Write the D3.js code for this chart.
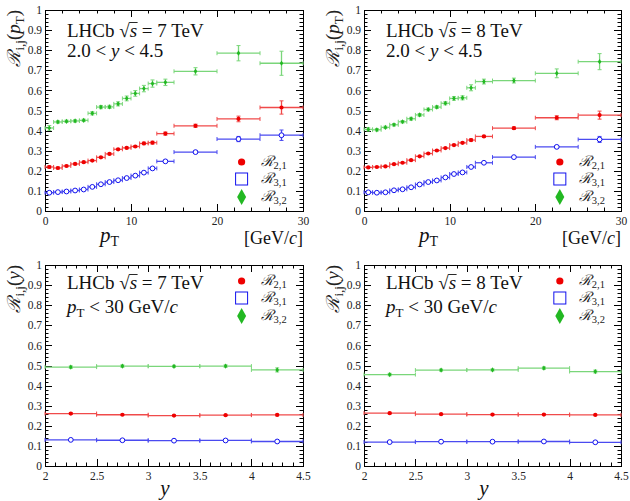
<!DOCTYPE html>
<html><head><meta charset="utf-8">
<script src="https://cdn.jsdelivr.net/npm/d3@7"></script>
<style>
html,body{margin:0;padding:0;background:#fff;}
</style></head>
<body>
<svg id="c" width="630" height="501"></svg>
<script>
// ---------------- DATA ----------------
const ptEdges = [0,1,2,3,4,5,6,7,8,9,10,11,12,13,15,20,25,30];
const yEdges = [2.0,2.5,3.0,3.5,4.0,4.5];

// 7 TeV, R vs pT
const pt7_R21 = [0.219,0.214,0.224,0.234,0.243,0.251,0.267,0.284,0.307,0.314,0.321,0.336,0.340,0.385,0.424,0.458,0.515];
const pt7_R21e = [0.006,0.005,0.004,0.004,0.004,0.004,0.004,0.004,0.004,0.004,0.005,0.006,0.007,0.008,0.008,0.014,0.033];
const pt7_R31 = [0.091,0.094,0.097,0.102,0.107,0.120,0.133,0.144,0.153,0.164,0.176,0.191,0.212,0.247,0.293,0.358,0.377];
const pt7_R31e = [0.004,0.003,0.003,0.003,0.003,0.003,0.003,0.003,0.003,0.003,0.004,0.004,0.005,0.005,0.006,0.013,0.026];
const pt7_R32 = [0.413,0.443,0.446,0.448,0.451,0.486,0.517,0.518,0.533,0.560,0.585,0.609,0.634,0.640,0.695,0.785,0.735];
const pt7_R32e = [0.012,0.006,0.006,0.006,0.006,0.008,0.008,0.008,0.010,0.012,0.014,0.016,0.018,0.016,0.018,0.038,0.060];

// 8 TeV, R vs pT
const pt8_R21 = [0.217,0.219,0.222,0.233,0.240,0.253,0.272,0.286,0.301,0.313,0.328,0.339,0.353,0.371,0.412,0.464,0.477];
const pt8_R21e = [0.004,0.003,0.003,0.003,0.003,0.003,0.003,0.003,0.003,0.003,0.004,0.004,0.006,0.005,0.006,0.010,0.020];
const pt8_R31 = [0.093,0.091,0.093,0.103,0.108,0.118,0.132,0.144,0.152,0.167,0.184,0.192,0.219,0.240,0.268,0.319,0.356];
const pt8_R31e = [0.004,0.003,0.002,0.002,0.002,0.002,0.002,0.002,0.003,0.003,0.003,0.003,0.006,0.004,0.004,0.007,0.015];
const pt8_R32 = [0.406,0.404,0.416,0.429,0.444,0.459,0.478,0.505,0.517,0.536,0.560,0.563,0.613,0.644,0.649,0.685,0.743];
const pt8_R32e = [0.008,0.006,0.006,0.006,0.006,0.007,0.007,0.007,0.007,0.008,0.009,0.010,0.015,0.012,0.012,0.022,0.040];

// 7 TeV, R vs y
const y7_R21 = [0.261,0.255,0.251,0.253,0.254];
const y7_R21e = [0.004,0.003,0.003,0.003,0.004];
const y7_R31 = [0.130,0.128,0.126,0.127,0.122];
const y7_R31e = [0.003,0.002,0.002,0.002,0.003];
const y7_R32 = [0.492,0.497,0.496,0.497,0.478];
const y7_R32e = [0.006,0.006,0.005,0.006,0.010];

// 8 TeV, R vs y
const y8_R21 = [0.263,0.258,0.256,0.256,0.254];
const y8_R21e = [0.004,0.003,0.003,0.003,0.003];
const y8_R31 = [0.119,0.121,0.121,0.122,0.118];
const y8_R31e = [0.002,0.002,0.002,0.002,0.002];
const y8_R32 = [0.455,0.477,0.478,0.487,0.470];
const y8_R32e = [0.006,0.005,0.005,0.006,0.007];

const yTicks = [0,0.1,0.2,0.3,0.4,0.5,0.6,0.7,0.8,0.9,1];
const ptTicks = [0,10,20,30];
const rapTicks = [2,2.5,3,3.5,4,4.5];
const legendNames = ["2,1","3,1","3,2"];

// ---------------- STYLE ----------------
const SERIF = "'Liberation Serif', 'Times New Roman', Tinos, 'Nimbus Roman', 'DejaVu Serif', serif";
const SCRIPT = "'DejaVu Serif', serif";
const RED = {line:"#f04a4a", mark:"#ee0000", type:"circle"};
const BLUE = {line:"#4a4af0", mark:"#1010ee", type:"open"};
const GREEN = {line:"#7ad67a", mark:"#22b822", type:"diamond"};

const svg = d3.select("#c").style("font-family", SERIF).attr("font-family", SERIF);

function drawPanel(cfg){
  const g = svg.append("g").attr("font-family", SERIF);
  const x = d3.scaleLinear().domain(cfg.xdom).range([cfg.L, cfg.R]);
  const y = d3.scaleLinear().domain([0,1]).range([cfg.B, cfg.T]);

  g.append("rect").attr("x",cfg.L+0.5).attr("y",cfg.T+0.5).attr("width",cfg.R-cfg.L).attr("height",cfg.B-cfg.T)
    .attr("fill","none").attr("stroke","#000").attr("stroke-width",1);

  const tk = g.append("g").attr("stroke","#000").attr("stroke-width",1);
  d3.range(0,1.0001,0.02).forEach(v=>{
    const major = Math.abs(Math.round(v*10)-v*10)<1e-6;
    const len = major?7:3.5;
    const yy = Math.round(y(v))+0.5;
    tk.append("line").attr("x1",cfg.L).attr("x2",cfg.L+len).attr("y1",yy).attr("y2",yy);
    tk.append("line").attr("x1",cfg.R).attr("x2",cfg.R-len).attr("y1",yy).attr("y2",yy);
  });
  d3.range(cfg.xdom[0], cfg.xdom[1]+1e-9, cfg.xminor).forEach(v=>{
    const major = cfg.xticks.some(t=>Math.abs(t-v)<1e-6);
    const len = major?7:3.5;
    const xx = Math.round(x(v))+0.5;
    tk.append("line").attr("x1",xx).attr("x2",xx).attr("y1",cfg.B).attr("y2",cfg.B-len);
    tk.append("line").attr("x1",xx).attr("x2",xx).attr("y1",cfg.T).attr("y2",cfg.T+len);
  });

  const yl = d3.axisLeft(y).tickValues(yTicks).tickSize(0).tickPadding(3).tickFormat(d3.format("~g"));
  const ya = g.append("g").attr("transform",`translate(${cfg.L},0)`).call(yl);
  ya.attr("font-family", SERIF).attr("font-size", 11.5);
  ya.select(".domain").remove();
  ya.selectAll("text").attr("fill","#222");
  const xl = d3.axisBottom(x).tickValues(cfg.xticks).tickSize(0).tickPadding(6).tickFormat(d3.format("~g"));
  const xa = g.append("g").attr("transform",`translate(0,${cfg.B})`).call(xl);
  xa.attr("font-family", SERIF).attr("font-size", 11.5);
  xa.select(".domain").remove();
  xa.selectAll("text").attr("fill","#222");

  cfg.series.forEach(s=>{
    const sg = g.append("g");
    s.vals.forEach((v,i)=>{
      const x0 = x(cfg.edges[i]), x1 = x(cfg.edges[i+1]);
      const xc = x((cfg.edges[i]+cfg.edges[i+1])/2);
      const yc = y(v);
      const e = s.errs[i];
      sg.append("line").attr("x1",x0).attr("x2",x1).attr("y1",yc).attr("y2",yc)
        .attr("stroke",s.st.line).attr("stroke-width",1.3);
      [x0,x1].forEach(xe=>{
        sg.append("line").attr("x1",xe).attr("x2",xe).attr("y1",yc-2).attr("y2",yc+2)
          .attr("stroke",s.st.line).attr("stroke-width",1);
      });
      const ye0 = y(v-e), ye1 = y(v+e);
      sg.append("line").attr("x1",xc).attr("x2",xc).attr("y1",ye0).attr("y2",ye1)
        .attr("stroke",s.st.line).attr("stroke-width",1.3);
      [ye0,ye1].forEach(yy=>{
        sg.append("line").attr("x1",xc-2).attr("x2",xc+2).attr("y1",yy).attr("y2",yy)
          .attr("stroke",s.st.line).attr("stroke-width",1);
      });
      marker(sg, s.st, xc, yc, 1);
    });
  });

  const lx = cfg.L + (cfg.R-cfg.L)*0.762;
  cfg.legY.forEach((ly,i)=>{
    const st = [RED,BLUE,GREEN][i];
    marker(g, st, lx, ly, 2.4);
    const t = g.append("text").attr("x",lx+19).attr("y",ly+4).attr("font-size",13).attr("fill","#222");
    t.append("tspan").attr("font-family",SCRIPT).attr("font-style","italic").attr("font-size",14.5).text("ℛ");
    t.append("tspan").attr("font-size",10.5).attr("dy",3).text(legendNames[i]);
  });

  const h = g.append("text").attr("x",cfg.L+22).attr("y",cfg.hy1).attr("font-size",19).attr("fill","#111");
  h.append("tspan").text("LHCb ");
  h.append("tspan").text("√");
  h.append("tspan").attr("font-style","italic").text("s");
  h.append("tspan").text(" = "+cfg.energy+" TeV");
  const node = h.node();
  const a = node.getSubStringLength(0, 6);
  const b = node.getSubStringLength(0, 7);
  g.append("line").attr("x1",cfg.L+22+a-0.5).attr("x2",cfg.L+22+b+0.5)
    .attr("y1",cfg.hy1-14.5).attr("y2",cfg.hy1-14.5).attr("stroke","#111").attr("stroke-width",0.9);

  const h2 = g.append("text").attr("x",cfg.L+22).attr("y",cfg.hy2).attr("font-size",19).attr("fill","#111");
  if(cfg.kind==="pt"){
    h2.append("tspan").text("2.0 < ");
    h2.append("tspan").attr("font-style","italic").text("y");
    h2.append("tspan").text(" < 4.5");
  } else {
    h2.append("tspan").attr("font-style","italic").text("p");
    h2.append("tspan").attr("font-size",13).attr("dy",4).text("T");
    h2.append("tspan").attr("dy",-4).text(" < 30 GeV/");
    h2.append("tspan").attr("font-style","italic").text("c");
  }

  const yt = g.append("text").attr("transform",`translate(${cfg.L-25},${cfg.T}) rotate(-90)`)
    .attr("text-anchor","end").attr("font-size",19).attr("fill","#222");
  yt.append("tspan").attr("font-family",SCRIPT).attr("font-style","italic").attr("font-size",18).text("ℛ");
  yt.append("tspan").attr("font-size",13).attr("dy",4).text("i,j");
  yt.append("tspan").attr("dy",-4).text("(");
  if(cfg.kind==="pt"){
    yt.append("tspan").attr("font-style","italic").text("p");
    yt.append("tspan").attr("font-size",13).attr("dy",4).text("T");
    yt.append("tspan").attr("dy",-4).text(")");
  } else {
    yt.append("tspan").attr("font-style","italic").text("y");
    yt.append("tspan").text(")");
  }

  if(cfg.kind==="pt"){
    const xt = g.append("text").attr("x",cfg.L+55).attr("y",cfg.B+31).attr("font-size",21).attr("fill","#111");
    xt.append("tspan").attr("font-style","italic").text("p");
    xt.append("tspan").attr("font-size",14).attr("dy",4).text("T");
    const xu = g.append("text").attr("x",cfg.R).attr("y",cfg.B+33).attr("text-anchor","end").attr("font-size",18).attr("fill","#111");
    xu.append("tspan").text("[GeV/");
    xu.append("tspan").attr("font-style","italic").text("c");
    xu.append("tspan").text("]");
  } else {
    g.append("text").attr("x",cfg.L+120).attr("y",cfg.B+29).attr("font-size",21).attr("font-style","italic")
      .attr("text-anchor","middle").attr("fill","#111").text("y");
  }
}

function marker(g, st, cx, cy, k){
  if(st.type==="circle"){
    g.append("circle").attr("cx",cx).attr("cy",cy).attr("r",k>1?3.6:2.1).attr("fill",st.mark);
  } else if(st.type==="open"){
    if(k>1){
      g.append("rect").attr("x",cx-6).attr("y",cy-6).attr("width",12).attr("height",12)
        .attr("fill","#fff").attr("stroke",st.mark).attr("stroke-width",1);
    } else {
      g.append("circle").attr("cx",cx).attr("cy",cy).attr("r",2.4).attr("fill","#fff")
        .attr("stroke",st.mark).attr("stroke-width",1);
    }
  } else {
    const w = k>1?4.5:1.8, hh = k>1?8:2.6;
    g.append("path").attr("d",`M${cx},${cy-hh}L${cx+w},${cy}L${cx},${cy+hh}L${cx-w},${cy}Z`).attr("fill",st.mark);
  }
}

drawPanel({L:45,R:303,T:10,B:211,xdom:[0,30],xticks:ptTicks,xminor:2,edges:ptEdges,kind:"pt",energy:"7",
  hy1:37,hy2:57,legY:[162,179,197],
  series:[{vals:pt7_R32,errs:pt7_R32e,st:GREEN},{vals:pt7_R21,errs:pt7_R21e,st:RED},{vals:pt7_R31,errs:pt7_R31e,st:BLUE}]});
drawPanel({L:364,R:621,T:10,B:211,xdom:[0,30],xticks:ptTicks,xminor:2,edges:ptEdges,kind:"pt",energy:"8",
  hy1:37,hy2:57,legY:[162,179,197],
  series:[{vals:pt8_R32,errs:pt8_R32e,st:GREEN},{vals:pt8_R21,errs:pt8_R21e,st:RED},{vals:pt8_R31,errs:pt8_R31e,st:BLUE}]});
drawPanel({L:45,R:303,T:265,B:466,xdom:[2,4.5],xticks:rapTicks,xminor:0.1,edges:yEdges,kind:"y",energy:"7",
  hy1:289,hy2:313,legY:[281,298,316],
  series:[{vals:y7_R32,errs:y7_R32e,st:GREEN},{vals:y7_R21,errs:y7_R21e,st:RED},{vals:y7_R31,errs:y7_R31e,st:BLUE}]});
drawPanel({L:364,R:621,T:265,B:466,xdom:[2,4.5],xticks:rapTicks,xminor:0.1,edges:yEdges,kind:"y",energy:"8",
  hy1:289,hy2:313,legY:[281,298,316],
  series:[{vals:y8_R32,errs:y8_R32e,st:GREEN},{vals:y8_R21,errs:y8_R21e,st:RED},{vals:y8_R31,errs:y8_R31e,st:BLUE}]});
</script>
</body></html>
